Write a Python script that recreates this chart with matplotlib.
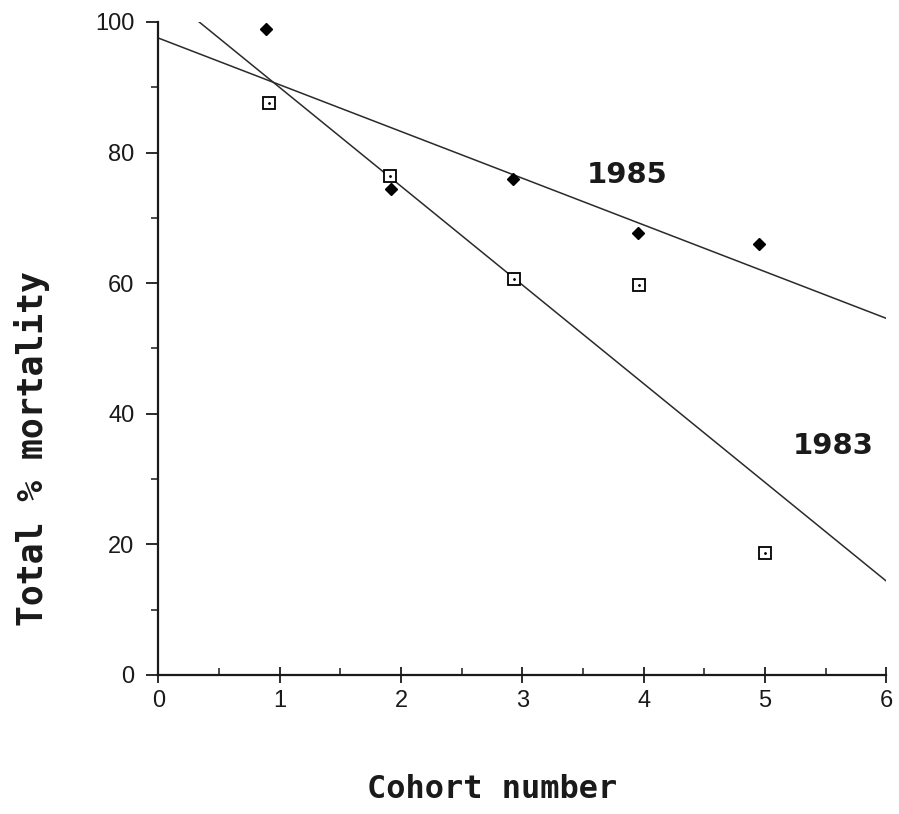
import numpy as np
import matplotlib.pyplot as plt
from matplotlib.ticker import MultipleLocator

# cohort mortality, two seasons
cohort_85 = [0.89, 1.92, 2.92, 3.95, 4.95]
mort_1985 = [98.9, 74.4, 76.0, 67.7, 66.0]
cohort_83 = [0.91, 1.91, 2.93, 3.96, 5.0]
mort_1983 = [87.6, 76.4, 60.6, 59.7, 18.7]

fig = plt.figure(figsize=(8.99, 8.14), dpi=100)
ax = fig.add_axes([0.176, 0.171, 0.81, 0.802])

# least-squares lines for each year
b85 = np.polyfit(cohort_85, mort_1985, 1)
b83 = np.polyfit(cohort_83, mort_1983, 1)

x85 = np.array([0, 6])
ax.plot(x85, np.polyval(b85, x85), color='#2a2a2a', lw=1.1)

x83_start = (100 - b83[1]) / b83[0]
x83 = np.array([x83_start, 6])
ax.plot(x83, np.polyval(b83, x83), color='#2a2a2a', lw=1.1)

ax.plot(cohort_85, mort_1985, linestyle='none', marker='D', ms=6.5,
        color='black', clip_on=False)
ax.plot(cohort_83, mort_1983, linestyle='none', marker='s', ms=9,
        markerfacecolor='white', markeredgecolor='black', mew=1.3)
ax.plot(cohort_83, mort_1983, linestyle='none', marker='.', ms=2, color='black')

ax.text(3.86, 76.5, '1985', fontsize=21, fontweight='bold',
        ha='center', va='center', family='DejaVu Sans', color='#1a1a1a')
ax.text(5.56, 35.0, '1983', fontsize=21, fontweight='bold',
        ha='center', va='center', family='DejaVu Sans', color='#1a1a1a')

ax.set_xlim(0, 6)
ax.set_ylim(0, 100)
ax.xaxis.set_major_locator(MultipleLocator(1))
ax.xaxis.set_minor_locator(MultipleLocator(0.5))
ax.yaxis.set_major_locator(MultipleLocator(20))
ax.yaxis.set_minor_locator(MultipleLocator(10))

for side in ['top', 'right']:
    ax.spines[side].set_visible(False)
for side in ['left', 'bottom']:
    ax.spines[side].set_linewidth(1.6)
    ax.spines[side].set_color('#1a1a1a')

ax.tick_params(which='major', direction='out', length=9, width=1.3,
               labelsize=17, colors='#1a1a1a')
ax.tick_params(axis='x', which='major', direction='inout', length=12, pad=5)
ax.tick_params(axis='y', which='major', pad=8)
ax.tick_params(axis='x', which='minor', direction='in', length=5, width=1.1,
               colors='#1a1a1a')
ax.tick_params(axis='y', which='minor', direction='out', length=5, width=1.1,
               colors='#1a1a1a')
for lab in ax.get_xticklabels() + ax.get_yticklabels():
    lab.set_family('Liberation Sans')

ax.set_xlabel('Cohort number', fontsize=23, family='DejaVu Sans Mono',
              fontweight='bold', color='#1a1a1a')
ax.xaxis.label.set_va('center')
ax.xaxis.set_label_coords(0.459, -0.176)
ax.set_ylabel('Total % mortality', fontsize=25, family='DejaVu Sans Mono',
              fontweight='bold', color='#1a1a1a')
ax.yaxis.label.set_va('center')
ax.yaxis.set_label_coords(-0.174, 0.346)

fig.savefig('out.png', dpi=100)
